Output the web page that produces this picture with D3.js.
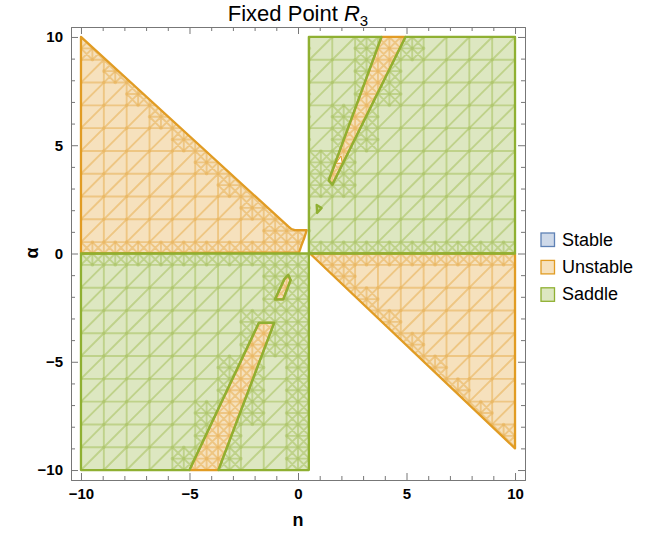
<!DOCTYPE html>
<html lang="en">
<head>
<meta charset="UTF-8">
<title>Fixed Point R3</title>
<script src="https://d3js.org/d3.v7.min.js"></script>
<style>
  body { margin: 0; background: #fff; }
  svg { display: block; font-family: "Liberation Sans", Arial, sans-serif; }
  .axis text { font-size: 15px; font-weight: bold; fill: #000; }
  .axis path, .axis line { stroke: #777; }
</style>
</head>
<body>
<svg id="chart" width="657" height="538"></svg>
<script>
// legend categories and their colours
const categories = ["Stable", "Unstable", "Saddle"];
const colors = ["#5E81B5", "#E19C24", "#8FB032"];

// region outlines, [n, alpha]
const unstableUpperLeft = [[-10, 0], [-10, 10], [-0.45, 1.25], [-0.3, 1.13], [-0.15, 1.08], [0.4, 1.08], [0.3, 0.75], [0.15, 0.35], [0.05, 0.05]];
const unstableLowerRight = [[0.55, 0], [10, 0], [10, -9]];
const unstableSliverUp = [[3.85, 10], [4.95, 10], [1.58, 3.18], [1.42, 3.38]];
const unstableNotch = [[1.76, 4.17], [2.04, 4.17], [1.98, 4.5]];
const unstableSliverDown = [[-5, -10], [-3.67, -10], [-1.1, -3.2], [-1.8, -3.2]];
const unstableIsland = [[-0.45, -0.99], [-0.34, -1.22], [-0.68, -2.12], [-1.06, -2.12], [-0.63, -1.19]];
const saddleUpperRight = [[0.5, 0], [10, 0], [10, 10], [4.95, 10], [1.58, 3.18], [1.42, 3.38], [3.85, 10], [0.5, 10]];
const saddleLowerLeft = [[-10, 0], [0.5, 0], [0.5, -10], [-3.67, -10], [-1.1, -3.2], [-1.8, -3.2], [-5, -10], [-10, -10]];
const saddleSpeck = [[0.86, 2.24], [1.09, 2.1], [0.88, 1.87]];

const xTicks = [-10, -5, 0, 5, 10];
const yTicks = [-10, -5, 0, 5, 10];
const plotPoints = 20;

const regions = [
  {cat: 1, rings: [unstableUpperLeft]},
  {cat: 1, rings: [unstableLowerRight]},
  {cat: 1, rings: [unstableSliverUp, unstableNotch]},
  {cat: 1, rings: [unstableSliverDown]},
  {cat: 1, rings: [unstableIsland]},
  {cat: 2, rings: [saddleUpperRight]},
  {cat: 2, rings: [saddleLowerLeft, unstableIsland]},
  {cat: 2, rings: [saddleSpeck]}
];

const svg = d3.select("#chart");
const x = d3.scaleLinear().domain([-10.46, 10.46]).range([71, 525]);
const y = d3.scaleLinear().domain([-10.46, 10.46]).range([480, 27]);

function inside(reg, p) {
  let c = 0;
  reg.rings.forEach(r => { if (d3.polygonContains(r, p)) c++; });
  return c % 2 === 1;
}
function label(p) {
  // speck is ignored for the mesh
  for (let k = 0; k < regions.length - 1; k++) if (inside(regions[k], p)) return k;
  return -1;
}

// sampling mesh (triangulation look of the region plot)
const segs = new Map();
const verts = new Map();
function addSeg(a, b) {
  const ka = a.map(v => v.toFixed(4)).join(","), kb = b.map(v => v.toFixed(4)).join(",");
  const key = ka < kb ? ka + "|" + kb : kb + "|" + ka;
  if (!segs.has(key)) segs.set(key, [a, b]);
  verts.set(ka, a); verts.set(kb, b);
}
const probe = [[0,0],[1,0],[0,1],[1,1],[.5,.5],[.5,0],[0,.5],[1,.5],[.5,1],[.25,.25],[.75,.75],[.25,.75],[.75,.25]];
function uniform(x0, y0, s) {
  const l0 = label([x0, y0]);
  return probe.every(q => label([x0 + q[0] * s, y0 + q[1] * s]) === l0);
}
function cell(x0, y0, s, depth) {
  if (depth < 1 && !uniform(x0, y0, s)) {
    const h = s / 2;
    cell(x0, y0, h, depth + 1); cell(x0 + h, y0, h, depth + 1);
    cell(x0, y0 + h, h, depth + 1); cell(x0 + h, y0 + h, h, depth + 1);
    return;
  }
  const a = [x0, y0], b = [x0 + s, y0], c = [x0 + s, y0 + s], d = [x0, y0 + s];
  addSeg(a, b); addSeg(b, c); addSeg(c, d); addSeg(d, a);
  addSeg(a, c);
  if (depth === 1) addSeg(b, d);
}
const step = 20 / (plotPoints - 1);
for (let i = 0; i < plotPoints - 1; i++)
  for (let j = 0; j < plotPoints - 1; j++)
    cell(-10 + i * step, -10 + j * step, step, 0);

const meshD = Array.from(segs.values()).map(([a, b]) =>
  `M${x(a[0]).toFixed(2)},${y(a[1]).toFixed(2)}L${x(b[0]).toFixed(2)},${y(b[1]).toFixed(2)}`).join("");
const dotR = 1.8;
const dotD = Array.from(verts.values()).map(p =>
  `M${(x(p[0]) - dotR).toFixed(2)},${y(p[1]).toFixed(2)}a${dotR},${dotR} 0 1,0 ${2 * dotR},0a${dotR},${dotR} 0 1,0 ${-2 * dotR},0`).join("");

function ringPath(rings) {
  return rings.map(r => "M" + r.map(p => x(p[0]).toFixed(2) + "," + y(p[1]).toFixed(2)).join("L") + "Z").join("");
}

const defs = svg.append("defs");
regions.forEach((reg, k) => {
  defs.append("clipPath").attr("id", "clip" + k)
    .append("path").attr("d", ringPath(reg.rings)).attr("clip-rule", "evenodd");
});

const plot = svg.append("g");
regions.forEach((reg, k) => {
  const col = colors[reg.cat];
  const g = plot.append("g");
  g.append("path").attr("d", ringPath(reg.rings))
    .attr("fill", col).attr("fill-opacity", 0.3).attr("fill-rule", "evenodd");
  if (k !== regions.length - 1) {
    const m = g.append("g").attr("clip-path", `url(#clip${k})`);
    m.append("path").attr("d", meshD).attr("fill", "none")
      .attr("stroke", col).attr("stroke-opacity", 0.38).attr("stroke-width", 1.9);
    m.append("path").attr("d", dotD).attr("fill", col).attr("fill-opacity", 0.3);
  }
  reg.rings.forEach((r, ri) => {
    g.append("path").attr("d", ringPath([r]))
      .attr("fill", "none").attr("stroke", col).attr("stroke-width", ri === 0 || reg.cat === 2 ? 2.3 : 1)
      .attr("stroke-linejoin", "round");
  });
});

// frame with inward ticks
const minorX = d3.range(-10, 11).filter(v => !xTicks.includes(v));
const minorY = d3.range(-10, 11).filter(v => !yTicks.includes(v));
const fmt = d3.format("d");

function frameAxis(gen, scale, major, minor, tx, ty, labels) {
  svg.append("g").attr("class", "axis").attr("transform", `translate(${tx},${ty})`)
    .call(gen(scale).tickValues(major).tickSize(-7).tickPadding(labels ? 8 : 0)
      .tickFormat(labels ? fmt : () => ""));
  svg.append("g").attr("class", "axis").attr("transform", `translate(${tx},${ty})`)
    .call(gen(scale).tickValues(minor).tickSize(-4).tickFormat(() => ""))
    .select(".domain").remove();
}
frameAxis(d3.axisBottom, x, xTicks, minorX, 0, 480, true);
frameAxis(d3.axisTop, x, xTicks, minorX, 0, 27, false);
frameAxis(d3.axisLeft, y, yTicks, minorY, 71, 0, true);
frameAxis(d3.axisRight, y, yTicks, minorY, 525, 0, false);

// title
const title = svg.append("text").attr("x", 298).attr("y", 21)
  .attr("text-anchor", "middle").attr("font-size", 22).attr("fill", "#000");
title.append("tspan").text("Fixed Point ");
title.append("tspan").attr("font-style", "italic").text("R");
title.append("tspan").attr("font-size", 15).attr("dy", 5).text("3");

// axis labels
svg.append("text").attr("x", 298).attr("y", 526).attr("text-anchor", "middle")
  .attr("font-size", 18).attr("font-weight", "bold").text("n");
svg.append("text").attr("transform", "translate(38,253) rotate(-90)")
  .attr("text-anchor", "middle").attr("font-size", 18).attr("font-weight", "bold").text("α");

// legend
const legend = svg.append("g").attr("transform", "translate(541,233)")
  .selectAll("g").data(categories).enter().append("g")
  .attr("transform", (d, i) => `translate(0,${i * 27.4})`);
legend.append("rect").attr("width", 13.5).attr("height", 13.5)
  .attr("fill", (d, i) => colors[i]).attr("fill-opacity", 0.3)
  .attr("stroke", (d, i) => colors[i]).attr("stroke-width", 1.3);
legend.append("text").attr("x", 21).attr("y", 12.5)
  .attr("font-size", 18).attr("fill", "#000").text(d => d);
</script>
</body>
</html>
